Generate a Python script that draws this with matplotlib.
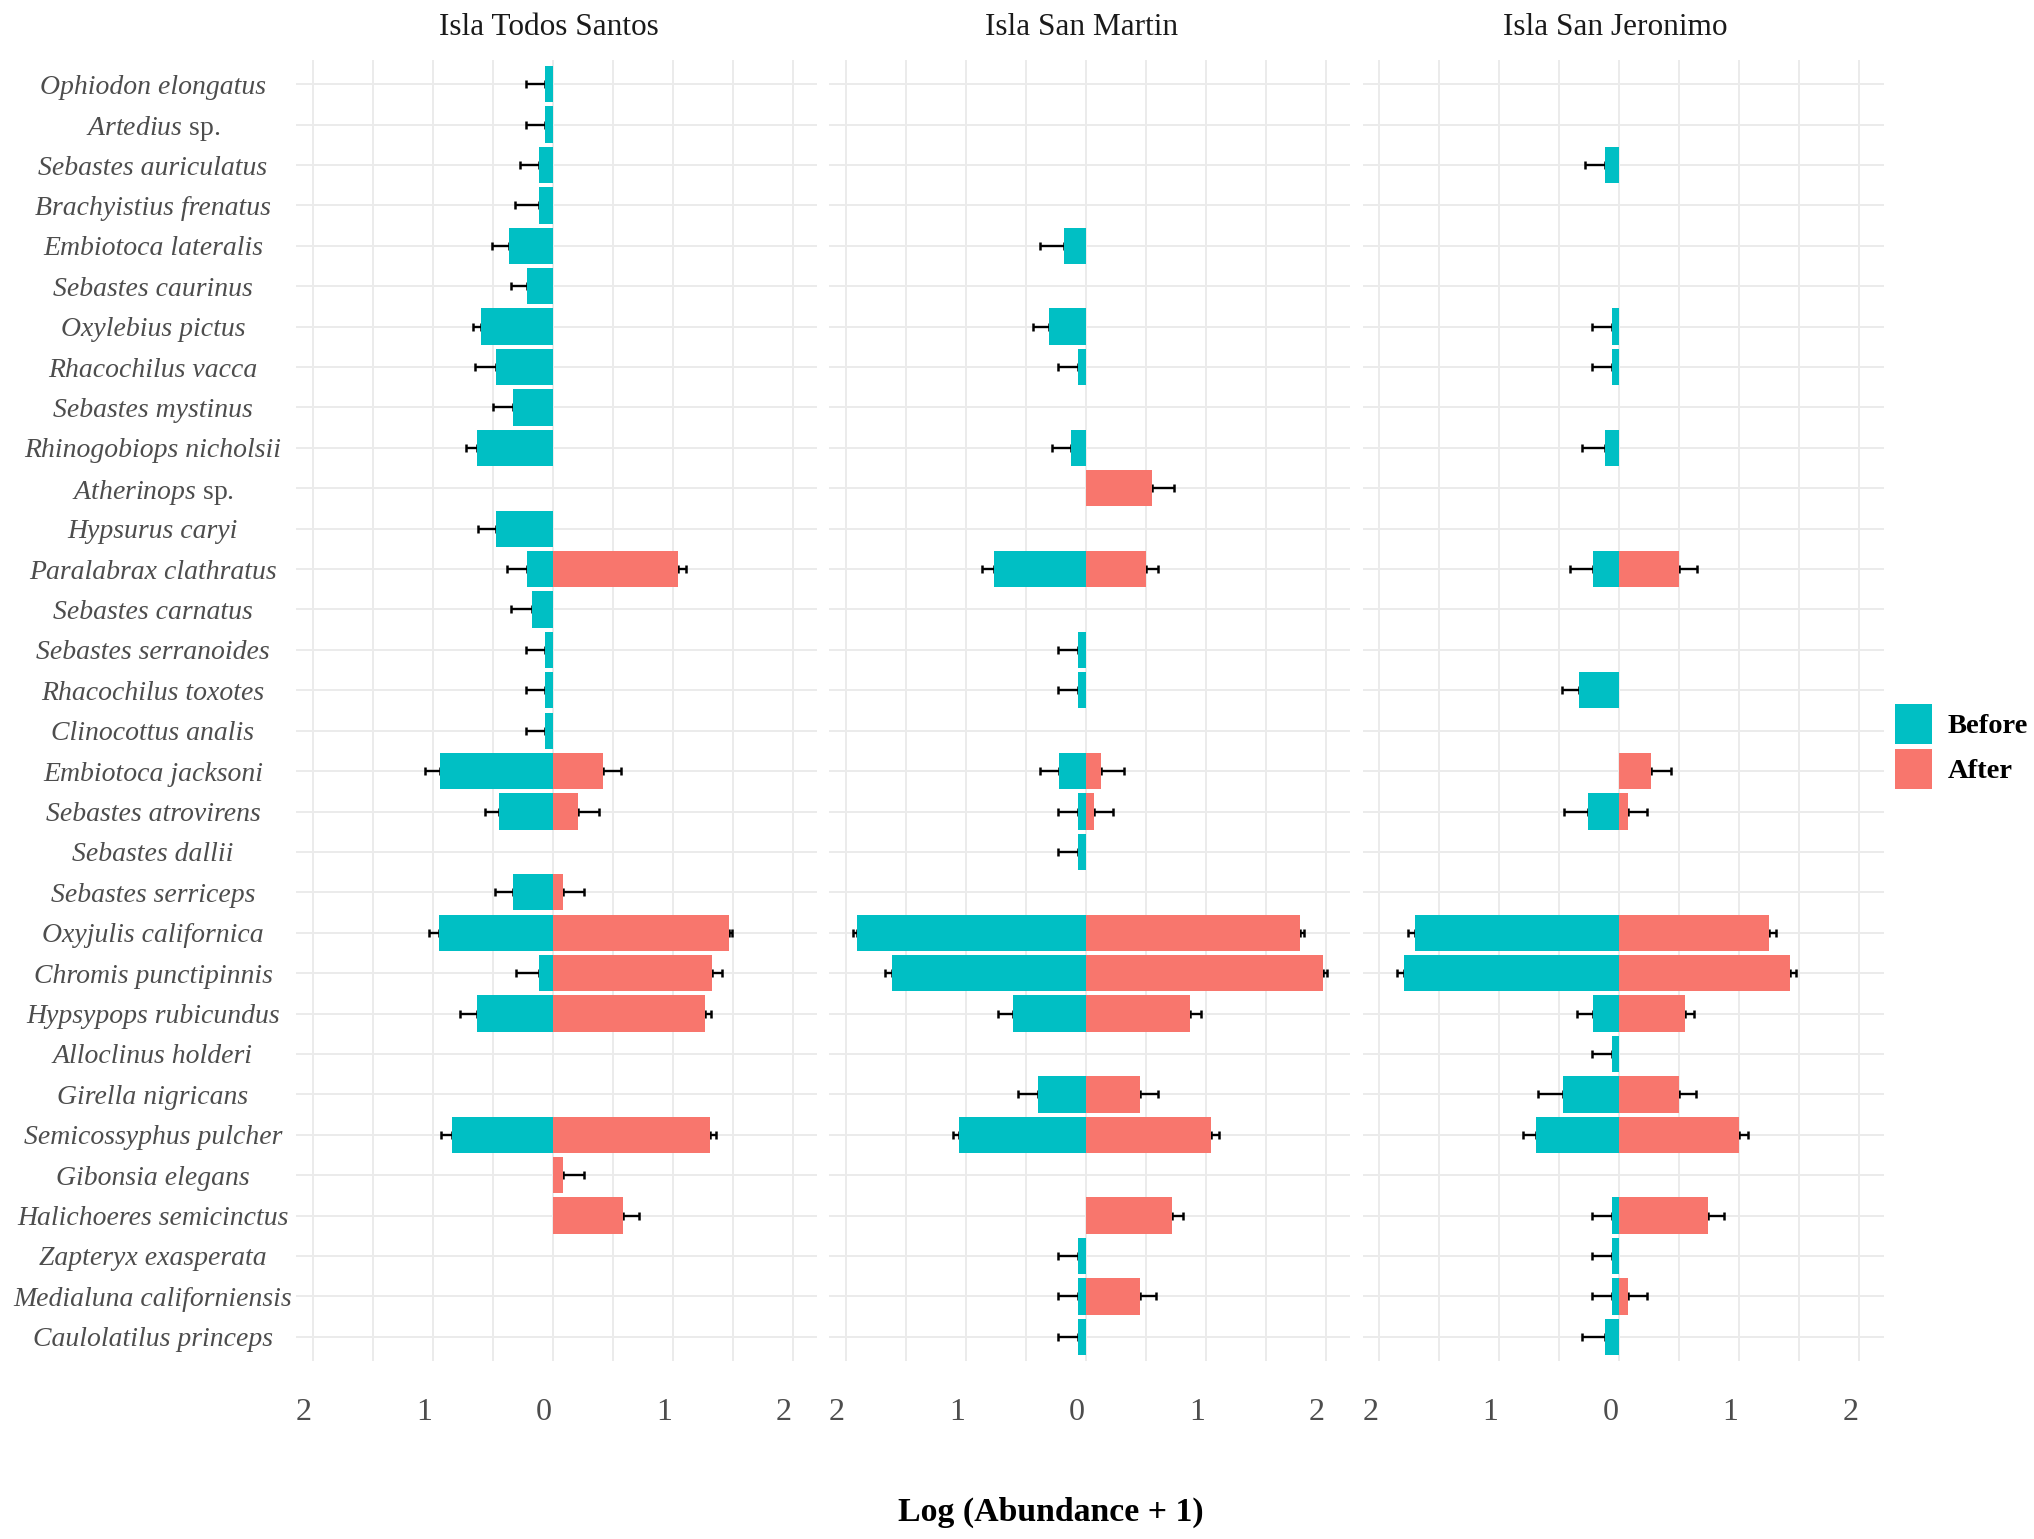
import matplotlib
matplotlib.use("Agg")
import matplotlib.pyplot as plt
from matplotlib.patches import Patch
from matplotlib.transforms import ScaledTranslation
import numpy as np

plt.rcParams['font.family'] = ['Liberation Serif', 'DejaVu Serif']
plt.rcParams['mathtext.fontset'] = 'custom'
plt.rcParams['mathtext.rm'] = 'Liberation Serif'
plt.rcParams['mathtext.it'] = 'Liberation Serif:italic'

# species, top to bottom
species = ["Ophiodon elongatus", "Artedius sp.", "Sebastes auriculatus",
           "Brachyistius frenatus", "Embiotoca lateralis", "Sebastes caurinus",
           "Oxylebius pictus", "Rhacochilus vacca", "Sebastes mystinus",
           "Rhinogobiops nicholsii", "Atherinops sp.", "Hypsurus caryi",
           "Paralabrax clathratus", "Sebastes carnatus", "Sebastes serranoides",
           "Rhacochilus toxotes", "Clinocottus analis", "Embiotoca jacksoni",
           "Sebastes atrovirens", "Sebastes dallii", "Sebastes serriceps",
           "Oxyjulis californica", "Chromis punctipinnis", "Hypsypops rubicundus",
           "Alloclinus holderi", "Girella nigricans", "Semicossyphus pulcher",
           "Gibonsia elegans", "Halichoeres semicinctus", "Zapteryx exasperata",
           "Medialuna californiensis", "Caulolatilus princeps"]

islands = ["Isla Todos Santos", "Isla San Martin", "Isla San Jeronimo"]

# Isla Todos Santos
ts_before = [0.065, 0.065, 0.118, 0.118, 0.366, 0.218, 0.597, 0.475, 0.331, 0.636,
             0, 0.475, 0.218, 0.174, 0.065, 0.065, 0.065, 0.941, 0.449, 0,
             0.331, 0.950, 0.118, 0.636, 0, 0, 0.841, 0, 0, 0, 0, 0]
ts_before_se = [0.16, 0.16, 0.16, 0.196, 0.14, 0.135, 0.065, 0.17, 0.166, 0.092,
                0, 0.148, 0.161, 0.175, 0.16, 0.16, 0.16, 0.122, 0.117, 0,
                0.153, 0.083, 0.19, 0.135, 0, 0, 0.091, 0, 0, 0, 0, 0]
ts_after = [0, 0, 0, 0, 0, 0, 0, 0, 0, 0, 0, 0, 1.041, 0, 0, 0, 0, 0.418, 0.205, 0,
            0.083, 1.464, 1.325, 1.264, 0, 0, 1.307, 0.083, 0.58, 0, 0, 0]
ts_after_se = [0, 0, 0, 0, 0, 0, 0, 0, 0, 0, 0, 0, 0.07, 0, 0, 0, 0, 0.153, 0.183, 0,
               0.178, 0.026, 0.087, 0.056, 0, 0, 0.053, 0.178, 0.135, 0, 0, 0]

# Isla San Martin
sm_before = [0, 0, 0, 0, 0.179, 0, 0.304, 0.068, 0, 0.125, 0, 0, 0.768, 0, 0.068,
             0.068, 0, 0.226, 0.068, 0.068, 0, 1.905, 1.619, 0.604, 0, 0.399, 1.057,
             0, 0, 0.068, 0.068, 0.068]
sm_before_se = [0, 0, 0, 0, 0.202, 0, 0.136, 0.161, 0, 0.158, 0, 0, 0.098, 0, 0.161,
                0.161, 0, 0.155, 0.161, 0.161, 0, 0.035, 0.051, 0.131, 0, 0.166, 0.047,
                0, 0, 0.161, 0.161, 0.161]
sm_after = [0, 0, 0, 0, 0, 0, 0, 0, 0, 0, 0.548, 0, 0.5, 0, 0, 0, 0, 0.125, 0.065, 0,
            0, 1.78, 1.979, 0.866, 0, 0.452, 1.042, 0, 0.714, 0, 0.452, 0]
sm_after_se = [0, 0, 0, 0, 0, 0, 0, 0, 0, 0, 0.19, 0, 0.104, 0, 0, 0, 0, 0.19, 0.164, 0,
               0, 0.04, 0.027, 0.089, 0, 0.152, 0.065, 0, 0.096, 0, 0.134, 0]

# Isla San Jeronimo
sj_before = [0, 0, 0.122, 0, 0, 0, 0.0625, 0.0625, 0, 0.122, 0, 0, 0.217, 0, 0,
             0.333, 0, 0, 0.259, 0, 0, 1.705, 1.798, 0.217, 0.0625, 0.473, 0.696,
             0, 0.0625, 0.0625, 0.0625, 0.122]
sj_before_se = [0, 0, 0.161, 0, 0, 0, 0.164, 0.164, 0, 0.19, 0, 0, 0.193, 0, 0,
                0.149, 0, 0, 0.199, 0, 0, 0.06, 0.053, 0.134, 0.164, 0.209, 0.108,
                0, 0.164, 0.164, 0.164, 0.19]
sj_after = [0, 0, 0, 0, 0, 0, 0, 0, 0, 0, 0, 0, 0.5, 0, 0, 0, 0, 0.265, 0.068, 0,
            0, 1.25, 1.42, 0.545, 0, 0.5, 1.0, 0, 0.741, 0, 0.068, 0]
sj_after_se = [0, 0, 0, 0, 0, 0, 0, 0, 0, 0, 0, 0, 0.149, 0, 0, 0, 0, 0.164, 0.164, 0,
               0, 0.054, 0.05, 0.077, 0, 0.134, 0.068, 0, 0.134, 0, 0.164, 0]

before_all = [ts_before, sm_before, sj_before]
before_se_all = [ts_before_se, sm_before_se, sj_before_se]
after_all = [ts_after, sm_after, sj_after]
after_se_all = [ts_after_se, sm_after_se, sj_after_se]

teal = "#00BFC4"
salmon = "#F8766D"
grid_col = "#EBEBEB"

W, H = 2034, 1539
fig = plt.figure(figsize=(W / 100, H / 100), dpi=100)

panel_left = [296, 829, 1362.5]
panel_w = 521
panel_top, panel_bot = 60, 1361

y = np.arange(1, len(species) + 1)

def label_for(name):
    # genus in italic, "sp." upright
    if name.endswith(" sp."):
        return r"$\mathit{" + name[:-4] + "}$ sp."
    return name

for k in range(3):
    ax = fig.add_axes([panel_left[k] / W, 1 - panel_bot / H,
                       panel_w / W, (panel_bot - panel_top) / H])
    b = np.array(before_all[k])
    bse = np.array(before_se_all[k])
    a = np.array(after_all[k])
    ase = np.array(after_se_all[k])

    # grid
    for gx in np.arange(-2, 2.01, 0.5):
        ax.axvline(gx, color=grid_col, lw=1.4, zorder=0)
    for gy in y:
        ax.axhline(gy, color=grid_col, lw=1.4, zorder=0)

    # error bars (outer side only), drawn under the bars
    mb = b > 0
    ax.errorbar(-b[mb], y[mb], xerr=[bse[mb], np.zeros(mb.sum())], fmt='none',
                ecolor='black', elinewidth=1.7, capsize=2.8, capthick=1.8, zorder=2)
    ma = a > 0
    ax.errorbar(a[ma], y[ma], xerr=[np.zeros(ma.sum()), ase[ma]], fmt='none',
                ecolor='black', elinewidth=1.7, capsize=2.8, capthick=1.8, zorder=2)

    ax.barh(y, -b, height=0.9, color=teal, zorder=3)
    ax.barh(y, a, height=0.9, color=salmon, zorder=3)

    ax.set_xlim(-2.14, 2.20)
    ax.set_ylim(len(species) + 0.6, 0.4)
    for s in ax.spines.values():
        s.set_visible(False)

    ax.set_xticks([-2, -1, 0, 1, 2])
    ax.set_xticklabels(["2", "1", "0", "1", "2"])
    ax.tick_params(axis='x', length=0, pad=27, labelsize=23, labelcolor="#4D4D4D")
    shift = ScaledTranslation(-9 / 100, 0, fig.dpi_scale_trans)
    for lab in ax.get_xticklabels():
        lab.set_transform(lab.get_transform() + shift)

    ax.set_yticks(y)
    if k == 0:
        ax.set_yticklabels([label_for(s) for s in species])
        ax.tick_params(axis='y', length=0, pad=103, labelsize=20, labelcolor="#4D4D4D")
        for lab, s in zip(ax.get_yticklabels(), species):
            lab.set_horizontalalignment('center')
            if not s.endswith(" sp."):
                lab.set_fontstyle('italic')
    else:
        ax.tick_params(axis='y', length=0, labelleft=False)

    ax.set_title(islands[k], fontsize=22.5, color="#1A1A1A", pad=18,
                 x=0.5 - 8 / panel_w)

fig.text(1051 / W, 1 - 1512 / H, "Log (Abundance + 1)", ha='center', va='center',
         fontsize=24.3, fontweight='bold', color='black')

handles = [Patch(facecolor=teal, edgecolor='none'), Patch(facecolor=salmon, edgecolor='none')]
leg = fig.legend(handles, ["Before", "After"], loc='center left',
                 bbox_to_anchor=(1895 / W, 1 - 746.5 / H), frameon=False,
                 prop={'weight': 'bold', 'size': 20.5}, handlelength=1.3,
                 handleheight=1.79, labelspacing=0.18, handletextpad=0.55,
                 borderpad=0, borderaxespad=0)

fig.savefig("out.png", dpi=100)
